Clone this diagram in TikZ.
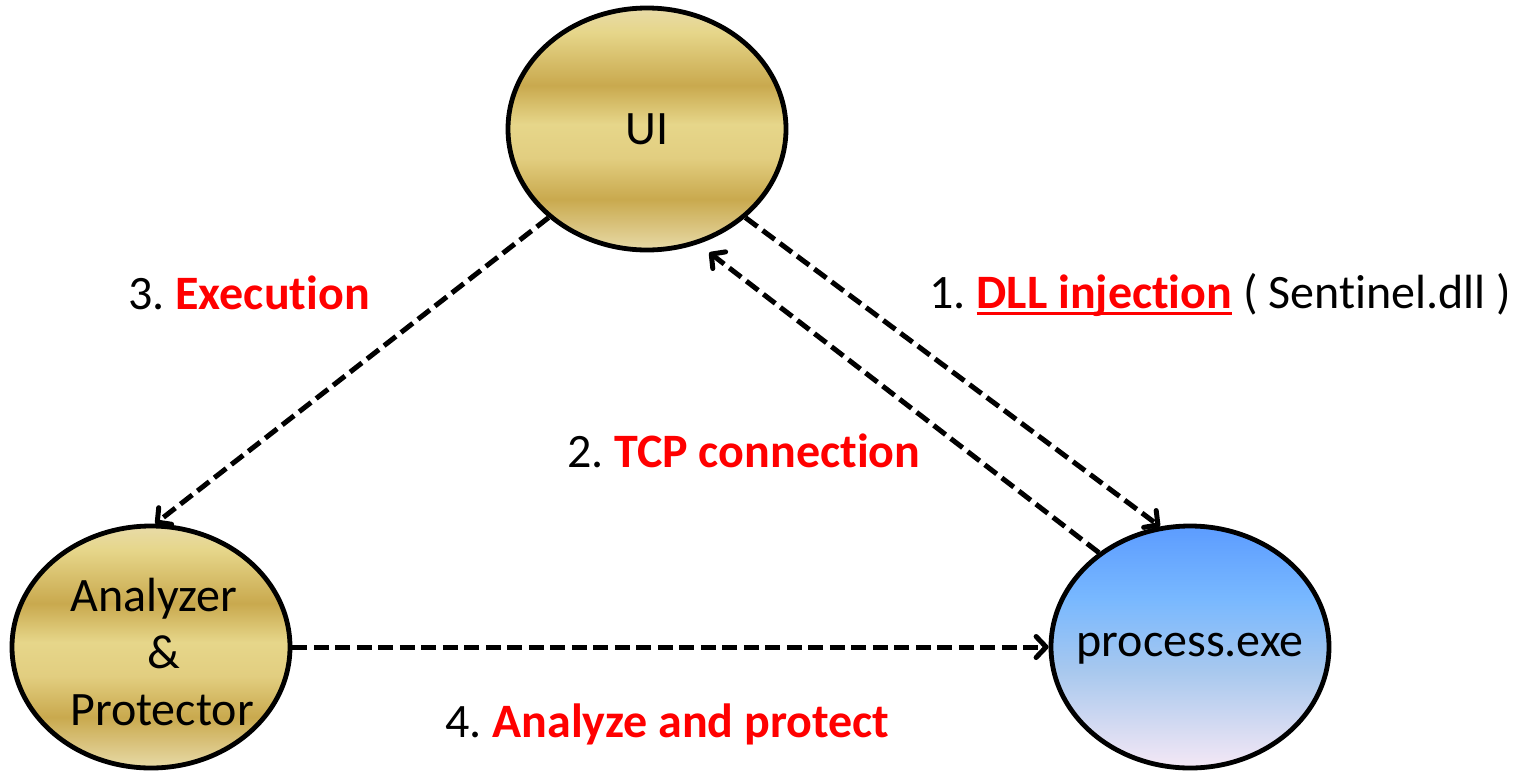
\documentclass[tikz,border=0pt]{standalone}
\usepackage{fontspec}
\setmainfont{Carlito}[Ligatures=NoCommon]
\usetikzlibrary{shapes.geometric,arrows.meta}
\frenchspacing

\definecolor{goldA}{HTML}{E8DBA8}
\definecolor{goldB}{HTML}{E6D68A}
\definecolor{goldC}{HTML}{C9A94E}
\definecolor{goldD}{HTML}{E2CE80}
\definecolor{blueA}{HTML}{5C9CFF}
\definecolor{blueB}{HTML}{78B8FF}
\definecolor{blueC}{HTML}{A8C8EE}
\definecolor{blueD}{HTML}{F5E8F5}
\definecolor{labelred}{HTML}{FF0000}

% metallic gold bands, listed bottom to top; the node spans 25bp..75bp
\pgfdeclareverticalshading{goldband}{100bp}{%
  color(0bp)=(goldA); color(25bp)=(goldA); color(35.5bp)=(goldC);
  color(44bp)=(goldD); color(51bp)=(goldB); color(59bp)=(goldC);
  color(70bp)=(goldB); color(75bp)=(goldA); color(100bp)=(goldA)}
\pgfdeclareverticalshading{blueband}{100bp}{%
  color(0bp)=(blueD); color(25bp)=(blueD); color(45bp)=(blueC);
  color(60bp)=(blueB); color(75bp)=(blueA); color(100bp)=(blueA)}

\newcommand\redunder[1]{\setbox0=\hbox{#1}\rlap{\color{labelred}\rule[-7pt]{\wd0}{3.5pt}}\box0\relax}

\tikzset{
  bigfont/.style={font=\fontsize{48}{57}\selectfont},
  blob/.style={ellipse, draw=black, line width=4.8pt, minimum width=278pt,
    minimum height=242pt, inner sep=0pt, bigfont},
  goldblob/.style={blob, shading=goldband},
  blueblob/.style={blob, shading=blueband},
  link/.style={line width=5pt, dash pattern=on 15pt off 6.5pt,
    -{Straight Barb[length=10pt,width=21pt,round]}},
  lbl/.style={anchor=base west, inner sep=0pt, bigfont},
}

\begin{document}
\begin{tikzpicture}[x=1pt,y=-1pt]
\useasboundingbox (0,0) rectangle (1524,772);

\node[goldblob] (ui) at (647,129) {UI};
\node[blueblob] (proc) at (1190,647) {};
\node[bigfont, inner sep=0pt] (proctext) at (1190,649) {process.exe};
\node[goldblob] (an) at (151,647) {};
\node[bigfont, align=left, inner sep=0pt] (antext) at (162,652)
  {Analyzer\\\hspace{1.6em}\&\\Protector};

\draw[link] (ui.-42) -- (proc.104);
\draw[link, shorten >=14pt] (proc.134) -- (ui.-66);
\draw[link] (ui.-138) -- (an.88);
\draw[link] (an.0) -- (proc.180);

\node[lbl] (l3) at (128,309) {3. \textcolor{labelred}{\bfseries Execution}};
\node[lbl] (l1) at (929,308)
  {1. \redunder{\textcolor{labelred}{\bfseries DLL injection}} ( Sentinel.dll )};
\node[lbl] (l2) at (567,467) {2. \textcolor{labelred}{\bfseries TCP connection}};
\node[lbl] (l4) at (445,737) {4. \textcolor{labelred}{\bfseries Analyze and protect}};
\end{tikzpicture}
\end{document}
